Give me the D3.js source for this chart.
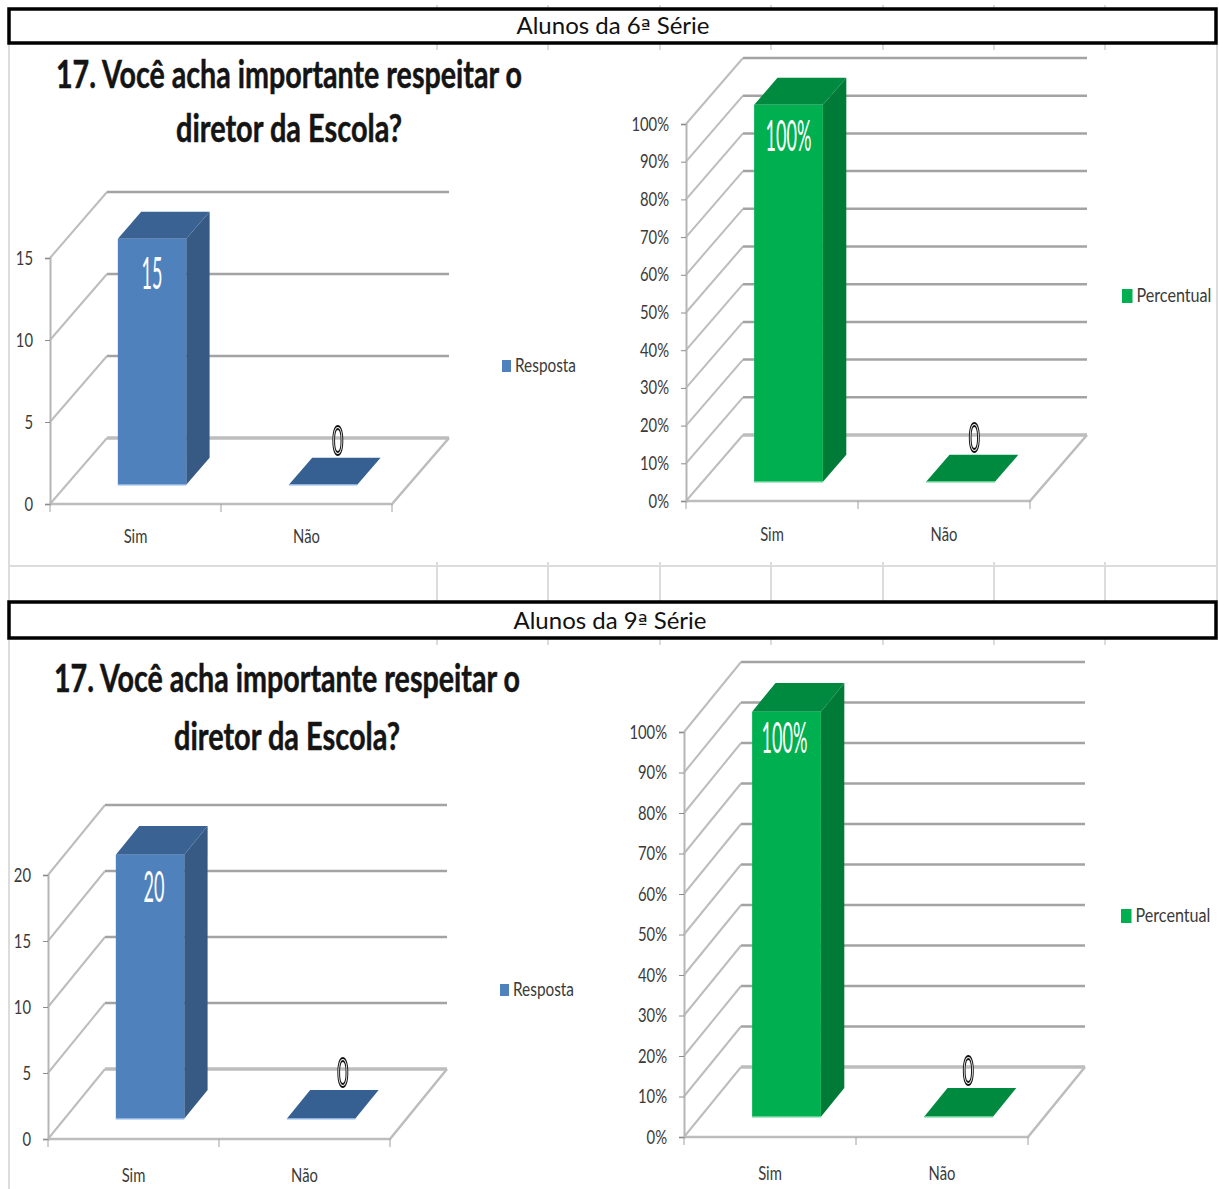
<!DOCTYPE html>
<html>
<head>
<meta charset="utf-8">
<script src="https://cdn.jsdelivr.net/npm/d3@7"></script>
<style>
    html, body { margin: 0; background: #fff; }
    svg { display: block; }
    text { font-family: Lato, "Open Sans", sans-serif; }
</style>
</head>
<body>
<svg id="sheet" width="1219" height="1189"></svg>
<script>
const categories = ['Sim', 'Não']
const respostas6 = [15, 0]
const percentual6 = [100, 0]
const respostas9 = [20, 0]
const percentual9 = [100, 0]
const ticks6 = [0, 5, 10, 15]
const ticks9 = [0, 5, 10, 15, 20]
const percentTicks = [0, 10, 20, 30, 40, 50, 60, 70, 80, 90, 100]
const titleLines = ['17. Você acha importante respeitar o', 'diretor da Escola?']

const blue = { front: '#4f81bd', side: '#375a85', top: '#3a6393', flat: '#366092', edge: '#8db4e2' }
const green = { front: '#00b050', side: '#007a37', top: '#008a40', flat: '#008a40', edge: '#5fd08f' }

const svg = d3.select('#sheet')

// spreadsheet cell borders behind the charts
const cellColor = '#dcdcdc'
const cellColumns = [437, 548, 660, 771, 883, 994, 1105]
const cellLine = (x1, y1, x2, y2) =>
    svg.append('line')
        .attr('x1', x1).attr('y1', y1).attr('x2', x2).attr('y2', y2)
        .attr('stroke', cellColor)
        .attr('stroke-width', 2)

cellLine(9, 44, 9, 602)
cellLine(9, 640, 9, 1189)
cellLine(1217, 44, 1217, 602)
cellLine(9, 566, 1217, 566)
cellColumns.forEach(x => {
    cellLine(x, 562, x, 602)
    cellLine(x, 44, x, 50)
    cellLine(x, 5, x, 8)
    cellLine(x, 638, x, 645)
})

function header(grade, y, height, textX) {
    svg.append('rect')
        .attr('x', 9).attr('y', y)
        .attr('width', 1207).attr('height', height)
        .attr('fill', '#fff')
        .attr('stroke', '#000')
        .attr('stroke-width', 3.5)
    const label = svg.append('text')
        .attr('x', textX).attr('y', y + height - 9)
        .attr('text-anchor', 'middle')
        .attr('font-size', 23)
        .attr('textLength', 193)
        .attr('lengthAdjust', 'spacingAndGlyphs')
        .attr('fill', '#111')
    label.append('tspan').text(`Alunos da ${grade}`)
    // Lato's ordinal has no bar under it, DejaVu's does
    label.append('tspan').attr('font-family', '"DejaVu Sans"').attr('font-size', 20).text('ª')
    label.append('tspan').text(' Série')
}

function title(cx, y1, y2) {
    const widths = [466, 226]
    titleLines.forEach((line, i) => {
        svg.append('text')
            .attr('x', cx).attr('y', i ? y2 : y1)
            .attr('text-anchor', 'middle')
            .attr('font-size', 39)
            .attr('font-weight', 700)
            .attr('textLength', widths[i])
            .attr('lengthAdjust', 'spacingAndGlyphs')
            .attr('fill', '#141414')
            .attr('stroke', '#141414')
            .attr('stroke-width', 0.5)
            .text(line)
    })
}

// fake 3D column chart, the way the spreadsheet draws it
function chart3d(opt) {
    const { values, tickValues, color, left, right, base, top, dx, dy } = opt
    const g = svg.append('g')
    const x = d3.scaleBand().domain(categories).range([left, right])
    const y = d3.scaleLinear()
        .domain([0, d3.max(tickValues)])
        .range([base, top])

    const wallColor = '#bdbdbd'
    const gridColor = '#a3a3a3'

    tickValues.forEach(t => {
        g.append('line')
            .attr('x1', left).attr('y1', y(t))
            .attr('x2', left + dx).attr('y2', y(t) + dy)
            .attr('stroke', wallColor)
            .attr('stroke-width', 2)
        g.append('line')
            .attr('x1', left + dx).attr('y1', y(t) + dy)
            .attr('x2', right + dx).attr('y2', y(t) + dy)
            .attr('stroke', t === 0 ? '#bdbdbd' : gridColor)
            .attr('stroke-width', t === 0 ? 3.5 : 2.5)
    })

    // floor outline
    g.append('path')
        .attr('d', d3.line()([[left, base], [right, base], [right + dx, base + dy]]))
        .attr('fill', 'none')
        .attr('stroke', wallColor)
        .attr('stroke-width', 2.5)

    const yAxis = d3.axisLeft(y)
        .tickValues(tickValues)
        .tickSize(5)
        .tickPadding(4)
        .tickFormat(opt.format)
    const yGroup = g.append('g').attr('transform', `translate(${left},0)`).call(yAxis)
    yGroup.select('.domain').attr('stroke', '#b5b5b5').attr('stroke-width', 2)
    yGroup.selectAll('.tick line').attr('stroke', '#8c8c8c')
    yGroup.selectAll('.tick text')
        .attr('font-size', 19)
        .attr('font-family', 'Lato')
        .attr('fill', '#3a3a3a')
        .attr('x', -17 / 0.78)
        .attr('transform', 'scale(0.78,1)')

    const xAxis = d3.axisBottom(x).tickSize(0).tickPadding(opt.categoryPad)
    const xGroup = g.append('g').attr('transform', `translate(0,${base})`).call(xAxis)
    xGroup.select('.domain').remove()
    xGroup.selectAll('.tick text')
        .attr('font-size', 19)
        .attr('font-family', 'Lato')
        .attr('fill', '#3a3a3a')
        .attr('transform', 'scale(0.78,1)')
        .attr('x', 0)
    categories.forEach((c, i) => {
        g.append('line')
            .attr('x1', x(c)).attr('y1', base)
            .attr('x2', x(c)).attr('y2', base + 8)
            .attr('stroke', '#a0a0a0')
        if (i === categories.length - 1) {
            g.append('line')
                .attr('x1', right).attr('y1', base)
                .attr('x2', right).attr('y2', base + 8)
                .attr('stroke', '#a0a0a0')
        }
    })

    // each column stands between these two depths of the floor
    const nearDepth = 0.29
    const depth = 0.41
    const barWidth = x.bandwidth() * 0.4
    const ox = dx * nearDepth
    const oy = dy * nearDepth
    const sx = dx * depth
    const sy = dy * depth

    const bars = g.selectAll('.column')
        .data(values)
        .enter()
        .append('g')
        .attr('class', 'column')

    const barX = (d, i) => x(categories[i]) + (x.bandwidth() - barWidth) / 2 + ox
    const poly = pts => pts.map(p => p.join(',')).join(' ')

    bars.filter(d => d > 0).append('polygon')
        .attr('fill', color.side)
        .attr('points', (d, i) => {
            const bx = barX(d, i) + barWidth
            return poly([
                [bx, y(d) + oy], [bx + sx, y(d) + oy + sy],
                [bx + sx, base + oy + sy], [bx, base + oy]
            ])
        })
    bars.append('polygon')
        .attr('fill', d => (d > 0 ? color.top : color.flat))
        .attr('points', (d, i) => {
            const bx = barX(d, i)
            return poly([
                [bx, y(d) + oy], [bx + barWidth, y(d) + oy],
                [bx + barWidth + sx, y(d) + oy + sy], [bx + sx, y(d) + oy + sy]
            ])
        })
    bars.filter(d => d > 0).append('rect')
        .attr('fill', color.front)
        .attr('x', (d, i) => barX(d, i))
        .attr('y', d => y(d) + oy)
        .attr('width', barWidth)
        .attr('height', d => base - y(d))
    // thin light rim along the foot of each column
    bars.append('line')
        .attr('x1', (d, i) => barX(d, i))
        .attr('x2', (d, i) => barX(d, i) + barWidth)
        .attr('y1', base + oy)
        .attr('y2', base + oy)
        .attr('stroke', color.edge)
        .attr('stroke-width', 1.5)

    // value labels: white inside the column, outlined above the flat one
    bars.append('text')
        .attr('text-anchor', 'middle')
        .attr('font-size', d => (d > 0 ? opt.labelSize : 40))
        .attr('transform', (d, i) => {
            const cx = barX(d, i) + (d > 0 ? barWidth / 2 + opt.labelShift : barWidth / 2 + sx / 2 + opt.zeroShift)
            const cy = d > 0 ? y(d) + oy + opt.labelDrop : y(d) + oy + sy - 3
            return `translate(${cx},${cy}) scale(${d > 0 ? opt.labelScale : 0.48},1)`
        })
        .attr('fill', '#fff')
        .attr('stroke', d => (d > 0 ? 'none' : '#111'))
        .attr('stroke-width', 1.6)
        .style('vector-effect', 'non-scaling-stroke')
        // keeps the outlined zero free of coloured text fringes
        .style('filter', d => (d > 0 ? null : 'grayscale(1)'))
        .text((d, i) => opt.labels[i])

    const legend = g.append('g')
    legend.append('rect')
        .attr('x', opt.legendX).attr('y', opt.legendY - opt.swatch / 2)
        .attr('width', opt.swatch * 0.75).attr('height', opt.swatch)
        .attr('fill', color.legend || color.front)
    const legendText = legend.append('text')
        .attr('font-size', 20)
        .attr('fill', '#3a3a3a')
        .text(opt.legend)
    const squeeze = opt.legendWidth / legendText.node().getComputedTextLength()
    legendText.attr(
        'transform',
        `translate(${opt.legendX + opt.swatch * 0.75 + 4},${opt.legendY + 6}) scale(${squeeze},1)`
    )
}

header('6', 9, 34, 613)
header('9', 602, 36, 610)
title(289, 88, 142)
title(287, 692, 750)

chart3d({
    values: respostas6, labels: ['15', '0'], tickValues: ticks6, color: blue,
    left: 50, right: 392, base: 504, top: 258, dx: 57, dy: -66,
    zeroShift: 3, labelSize: 44, labelScale: 0.41, labelDrop: 50, labelShift: 0, categoryPad: 26,
    legend: 'Resposta', legendX: 502, legendY: 366, swatch: 12, legendWidth: 61
})
chart3d({
    values: percentual6, labels: ['100%', '0'], tickValues: percentTicks, color: green,
    format: d => d + '%',
    left: 686, right: 1030, base: 501, top: 124, dx: 57, dy: -66,
    zeroShift: 2, labelSize: 42, labelScale: 0.43, labelDrop: 46, labelShift: 0, categoryPad: 27,
    legend: 'Percentual', legendX: 1122, legendY: 296, swatch: 14, legendWidth: 75
})
chart3d({
    values: respostas9, labels: ['20', '0'], tickValues: ticks9, color: blue,
    left: 48, right: 390, base: 1139, top: 875, dx: 57, dy: -70,
    zeroShift: 10, labelSize: 42, labelScale: 0.43, labelDrop: 47, labelShift: 4, categoryPad: 30,
    legend: 'Resposta', legendX: 500, legendY: 990, swatch: 12, legendWidth: 61
})
chart3d({
    values: percentual9, labels: ['100%', '0'], tickValues: percentTicks, color: green,
    format: d => d + '%',
    left: 684, right: 1028, base: 1137, top: 732, dx: 57, dy: -70,
    zeroShift: -2, labelSize: 42, labelScale: 0.43, labelDrop: 41, labelShift: -2, categoryPad: 30,
    legend: 'Percentual', legendX: 1121, legendY: 916, swatch: 14, legendWidth: 75
})
</script>
</body>
</html>
